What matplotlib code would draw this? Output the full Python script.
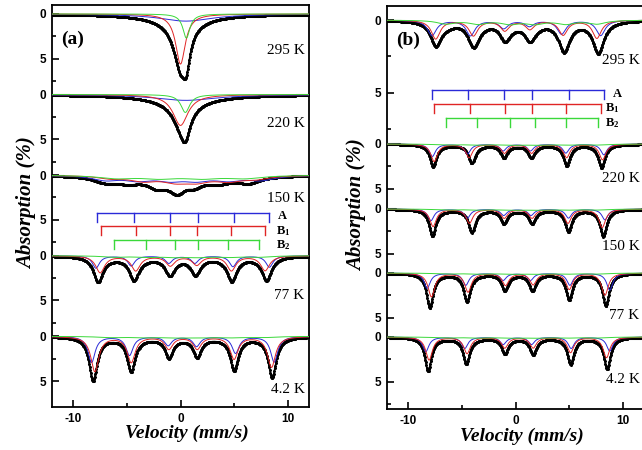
import numpy as np
import matplotlib
matplotlib.use("Agg")
import matplotlib.pyplot as plt

plt.rcParams['font.family'] = ['Liberation Serif', 'DejaVu Serif']
plt.rcParams['axes.unicode_minus'] = False
plt.rcParams['mathtext.fontset'] = 'custom'
plt.rcParams['mathtext.rm'] = 'Liberation Serif'
plt.rcParams['mathtext.bf'] = 'Liberation Serif:bold'

temps = ["295 K", "220 K", "150 K", "77 K", "4.2 K"]

# one entry per temperature: (line velocities mm/s, depths %, widths mm/s)
# panel (a)
a_data = [
    ([0.0, 0.0], [5.0, 0.9], [1.6, 6.0]),
    ([0.1, 0.2], [2.8, 0.8], [2.0, 7.0]),
    ([-7.2, -4.8, -2.2, -0.3, 1.3, 3.6, 6.4], [0.45, 0.45, 0.8, 1.45, 0.6, 0.5, 0.45], [2.2, 2.5, 2.0, 1.8, 1.5, 2.2, 2.2]),
    ([-7.69, -4.33, -1.0, 1.40, 4.77, 8.04], [2.8, 2.5, 1.9, 1.8, 2.55, 2.55], 1.1),
    ([-8.16, -4.6, -1.09, 1.56, 5.0, 8.56], [4.9, 3.75, 2.15, 2.05, 3.6, 4.45], 0.9),
]
a_A = [
    ([0.5], [0.8], 6.0),
    ([0.5], [0.65], 7.0),
    ([-7.0, -4.0, -1.0, 1.5, 4.5, 7.5], [0.5] * 6, 3.0),
    ([-7.9, -4.6, -1.09, 1.34, 4.9, 8.3], [1.38, 1.12, 0.82, 0.82, 1.2, 1.27], 0.8),
    ([-8.3, -4.76, -1.15, 1.5, 5.14, 8.75], [2.9, 2.1, 1.0, 1.1, 1.87, 2.87], 0.8),
]
a_B1 = [
    ([0.0], [5.6], 1.1),
    ([0.0], [3.45], 1.7),
    ([-6.5, -3.5, -0.5, 1.5, 4.5, 7.0], [0.3, 0.55, 0.6, 0.6, 0.55, 0.35], 3.0),
    ([-7.5, -4.18, -0.95, 1.52, 4.75, 7.9], [1.87, 1.64, 1.08, 1.0, 1.64, 1.64], 1.0),
    ([-8.0, -4.6, -1.09, 1.56, 5.0, 8.5], [3.9, 2.87, 1.38, 1.38, 2.5, 3.43], 0.9),
]
a_B2 = [
    ([0.55], [2.7], 0.8),
    ([0.45], [2.0], 1.0),
    ([-6.0, -2.0, 2.0, 6.0], [0.33] * 4, 4.0),
    ([-6.2, -3.2, -0.5, 1.68, 4.46, 7.29], [0.15] * 6, 2.5),
    ([-6.5, -3.4, -0.5, 1.8, 4.7, 7.6], [0.12] * 6, 3.0),
]
# panel (b)
b_data = [
    ([-7.45, -3.93, -1.0, 1.34, 4.51, 7.73], [1.6, 1.5, 1.05, 1.05, 1.8, 1.95], 1.2),
    ([-7.69, -4.07, -1.09, 1.5, 4.77, 8.04], [2.45, 2.0, 1.4, 1.4, 2.25, 2.5], 0.75),
    ([-7.76, -4.07, -1.09, 1.56, 4.93, 8.2], [2.95, 2.45, 1.45, 1.45, 2.35, 2.95], 0.75),
    ([-8.0, -4.52, -1.0, 1.59, 5.0, 8.44], [3.8, 3.05, 1.8, 1.8, 2.8, 3.55], 0.75),
    ([-8.16, -4.58, -1.0, 1.65, 5.14, 8.56], [3.75, 2.9, 1.72, 1.78, 2.9, 3.5], 0.75),
]
b_A = [
    ([-7.8, -4.2, -1.1, 1.3, 4.3, 7.95], [1.05, 1.05, 0.55, 0.4, 0.94, 1.05], 1.0),
    ([-7.76, -4.49, -1.15, 1.4, 4.7, 8.25], [1.38, 1.1, 0.75, 0.75, 1.0, 1.2], 0.7),
    ([-7.9, -4.5, -1.1, 1.45, 4.95, 8.35], [1.3, 1.0, 0.7, 0.7, 1.0, 1.2], 0.7),
    ([-8.25, -4.64, -1.15, 1.4, 5.08, 8.8], [1.7, 1.35, 0.8, 0.8, 1.35, 1.9], 0.7),
    ([-8.38, -4.74, -1.15, 1.5, 5.2, 8.8], [1.64, 1.27, 0.82, 0.82, 1.27, 1.57], 0.7),
]
b_B1 = [
    ([-7.45, -3.93, -1.0, 1.34, 4.45, 7.6], [1.28, 1.05, 0.7, 0.6, 1.0, 1.23], 1.0),
    ([-7.6, -4.33, -1.03, 1.5, 4.77, 8.13], [1.94, 1.5, 1.0, 1.0, 1.5, 1.75], 0.75),
    ([-7.7, -4.3, -1.05, 1.55, 4.9, 8.1], [1.94, 1.57, 1.0, 1.0, 1.57, 2.05], 0.75),
    ([-7.85, -4.43, -0.93, 1.65, 5.02, 8.35], [2.65, 2.1, 1.35, 1.27, 1.8, 2.46], 0.75),
    ([-8.07, -4.52, -1.0, 1.65, 5.14, 8.5], [2.57, 1.83, 1.2, 1.2, 1.72, 2.3], 0.75),
]
b_B2 = [
    ([-6.5, -3.5, -0.5, 1.8, 4.7, 7.6], [0.25] * 6, 2.0),
    ([-6.5, -3.5, -0.5, 1.8, 4.7, 7.6], [0.1] * 6, 2.5),
    ([-6.5, -3.5, -0.5, 1.8, 4.7, 7.6], [0.1] * 6, 2.5),
    ([-6.5, -3.5, -0.5, 1.8, 4.7, 7.6], [0.1] * 6, 2.5),
    ([-6.5, -3.5, -0.5, 1.8, 4.7, 7.6], [0.1] * 6, 2.5),
]

# stick diagrams (line positions of the sextets)
a_bar_A = [-7.8, -4.36, -0.96, 1.59, 4.98, 8.25]
a_bar_B1 = [-7.41, -4.14, -0.96, 1.53, 4.67, 7.85]
a_bar_B2 = [-6.2, -3.2, -0.5, 1.68, 4.46, 7.29]
b_bar_A = [-7.78, -4.39, -1.03, 1.56, 4.95, 8.25]
b_bar_B1 = [-7.57, -4.27, -1.0, 1.5, 4.74, 8.0]
b_bar_B2 = [-6.48, -3.55, -0.53, 1.8, 4.74, 7.66]
bar_names = ["A", r"$\mathbf{B_1}$", r"$\mathbf{B_2}$"]

v = np.linspace(-12, 12, 512)


def curve(entry):
    pos, dep, wid = entry
    pos = np.asarray(pos, float)
    dep = np.asarray(dep, float)
    hw = np.broadcast_to(np.asarray(wid, float) / 2.0, pos.shape)
    y = np.zeros_like(v)
    for p, d, h in zip(pos, dep, hw):
        y += d * h ** 2 / ((v - p) ** 2 + h ** 2)
    return y


fig = plt.figure(figsize=(6.42, 4.5), dpi=100)
W, H = 642.0, 450.0
ax_a = fig.add_axes([52 / W, 1 - 407 / H, 257 / W, 402 / H])
ax_b = fig.add_axes([387 / W, 1 - 409 / H, 257 / W, 403 / H])

colors = {'A': '#2a2ad8', 'B1': '#e02424', 'B2': '#3ad83a'}


def draw_panel(ax, data, cA, cB1, cB2, offsets, scales, lab_y, ylim, bars, bar_y, lab_x, bar_lab_y, tag):
    for i in range(len(temps)):
        o, s = offsets[i], scales[i]
        g = curve(cB2[i])
        tot = curve(data[i]) + g
        ax.plot(v, o + s * tot, color='black', lw=1.1, marker='o', ms=1.2, zorder=2)
        ax.plot(v, o + s * curve(cA[i]), color=colors['A'], lw=0.7, zorder=3)
        ax.plot(v, o + s * curve(cB1[i]), color=colors['B1'], lw=0.7, zorder=3)
        ax.plot(v, o + s * g, color=colors['B2'], lw=0.7, zorder=3)
        ax.text(11.6, o + lab_y[i], temps[i], ha='right', va='center', fontsize=11)

    # y ticks: "0" and "5" for every spectrum
    major, labels, minor = [], [], []
    for i in range(len(temps)):
        o, s = offsets[i], scales[i]
        nxt = offsets[i + 1] if i + 1 < len(temps) else ylim[0]
        major += [o, o + 5 * s]
        labels += ['0', '5']
        for m in (2.5, 7.5):
            if o + m * s < nxt - 0.5:
                minor.append(o + m * s)
    ax.set_yticks(major)
    ax.set_yticklabels(labels)
    ax.set_yticks(minor, minor=True)
    ax.set_xticks([-10, 0, 10])
    ax.set_xticks([-5, 5], minor=True)
    ax.set_xlim(-12, 12)
    ax.set_ylim(*ylim)
    ax.tick_params(which='both', direction='in', top=False, right=False, width=1.2, pad=4)
    ax.tick_params(which='major', length=5)
    ax.tick_params(which='minor', length=3)
    for lab in ax.get_xticklabels() + ax.get_yticklabels():
        lab.set_fontfamily('Liberation Sans')
        lab.set_fontweight('bold')
        lab.set_fontsize(8.5)
    for sp in ax.spines.values():
        sp.set_linewidth(1.3)

    # stick diagrams
    for k, key in enumerate(['A', 'B1', 'B2']):
        pos = bars[k]
        y0 = bar_y[k]
        ax.plot([pos[0], pos[-1]], [y0, y0], color=colors[key], lw=1.0)
        for p in pos:
            ax.plot([p, p], [y0, y0 + 1.0], color=colors[key], lw=1.0)
        ax.text(lab_x[k], bar_lab_y[k], bar_names[k], ha='center', va='center',
                fontsize=9, fontweight='bold')

    ax.text(0.035, 0.915, tag, transform=ax.transAxes, fontsize=14, fontweight='bold',
            ha='left', va='center')


draw_panel(ax_a, a_data, a_A, a_B1, a_B2,
           [0, 9, 18, 27, 36], [1, 1, 1, 1, 1],
           [4.1, 3.25, 2.6, 4.4, 5.9], (43.9, -1.0),
           [a_bar_A, a_bar_B1, a_bar_B2], [22.25, 23.7, 25.27],
           [9.55, 9.55, 9.55], [22.6, 24.2, 25.85], '(a)')
draw_panel(ax_b, b_data, b_A, b_B1, b_B2,
           [0, 13.86, 21.13, 28.29, 35.44], [1.63, 1, 1, 1, 1],
           [4.58, 3.9, 4.2, 4.7, 4.8], (43.5, -1.57),
           [b_bar_A, b_bar_B1, b_bar_B2], [7.83, 9.39, 10.92],
           [9.5, 9.07, 9.07], [8.3, 9.9, 11.55], '(b)')

fig.text(27 / W, 1 - 203 / H, 'Absorption (%)', rotation=90, fontsize=15, fontweight='bold',
         fontstyle='italic', ha='center', va='center')
fig.text(357 / W, 1 - 205 / H, 'Absorption (%)', rotation=90, fontsize=15, fontweight='bold',
         fontstyle='italic', ha='center', va='center')
fig.text(187 / W, 1 - 433 / H, 'Velocity (mm/s)', fontsize=14, fontweight='bold',
         fontstyle='italic', ha='center', va='center')
fig.text(522 / W, 1 - 436 / H, 'Velocity (mm/s)', fontsize=14, fontweight='bold',
         fontstyle='italic', ha='center', va='center')

fig.savefig('out.png', dpi=100)
